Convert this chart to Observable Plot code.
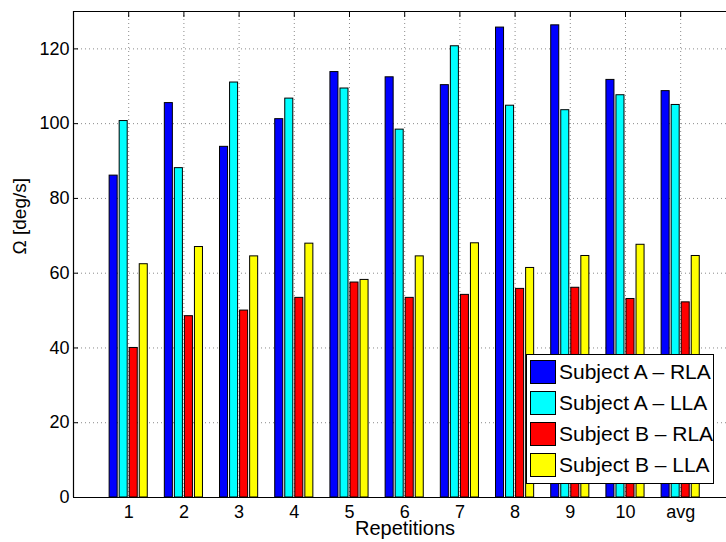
<!DOCTYPE html>
<html><head><meta charset="utf-8">
<script src="https://cdn.jsdelivr.net/npm/d3@7"></script>
<script src="https://cdn.jsdelivr.net/npm/@observablehq/plot@0.6"></script>
<style>
body{margin:0;background:#fff;}
#wrap{position:relative;width:726px;height:542px;overflow:hidden;}
.legend{position:absolute;left:526px;top:354px;width:188px;height:130px;border:1px solid #000;background:#fff;box-sizing:border-box;font-family:"Liberation Sans",Arial,sans-serif;font-size:21px;color:#000;}
.row{position:absolute;left:3px;height:24px;display:flex;align-items:center;white-space:nowrap;}
.sw{width:24px;height:22px;border:1px solid #000;margin-right:3px;}
</style>
</head><body>
<div id="wrap"></div>
<script>
const categories = ["1","2","3","4","5","6","7","8","9","10","avg"];
const seriesNames = ["Subject A – RLA","Subject A – LLA","Subject B – RLA","Subject B – LLA"];
const subjectA_RLA = [86.1,105.5,93.8,101.2,113.8,112.4,110.3,125.7,126.3,111.7,108.7];
const subjectA_LLA = [100.7,88.1,111.0,106.7,109.4,98.4,120.7,104.8,103.6,107.6,105.0];
const subjectB_RLA = [40.0,48.5,50.0,53.4,57.5,53.4,54.2,55.8,56.1,53.1,52.2];
const subjectB_LLA = [62.4,67.0,64.5,67.9,58.2,64.5,68.0,61.4,64.6,67.6,64.6];
const yTicks = [0,20,40,60,80,100,120];
const colors = ["#0000ff","#00ffff","#ff0000","#ffff00"];

const seriesValues = [subjectA_RLA, subjectA_LLA, subjectB_RLA, subjectB_LLA];
const groupStep = 4/(4+1.5)/4;   // spacing between bars in a group
const barWidth = groupStep*0.8;
const rows = [];
categories.forEach((c,i)=>seriesValues.forEach((vals,j)=>{
  const center = (i+1) + (j-1.5)*groupStep;
  rows.push({cat:c, series:seriesNames[j], value:vals[i], x1:center-barWidth/2, x2:center+barWidth/2});
}));
const xTicks = categories.map((c,i)=>i+1);
const font = '"Liberation Sans", Arial, sans-serif';

const chart = Plot.plot({
  width:726, height:542,
  marginLeft:73, marginRight:0, marginTop:11, marginBottom:45,
  style:{fontFamily:font, fontSize:"18px", background:"#fff", color:"#000"},
  x:{domain:[0,11.83], axis:null},
  y:{domain:[0,130], axis:null},
  color:{domain:seriesNames, range:colors},
  marks:[
    Plot.gridY(yTicks.slice(1), {stroke:"#8a8a8a", strokeOpacity:1, strokeDasharray:"1,3"}),
    Plot.gridX(xTicks, {stroke:"#8a8a8a", strokeOpacity:1, strokeDasharray:"1,3"}),
    Plot.rectY(rows, {x1:"x1", x2:"x2", y1:0, y2:"value", fill:"series", stroke:"#000", strokeWidth:1}),
    Plot.ruleY([0,130], {stroke:"#000", strokeWidth:1.2}),
    Plot.ruleX([0], {stroke:"#000", strokeWidth:1.2}),
    Plot.axisY(yTicks, {anchor:"left", tickSize:0, tickPadding:4, label:null, fontSize:18}),
    Plot.axisY(yTicks, {anchor:"left", tickSize:5, dx:5, tickFormat:()=>"", label:null}),
    Plot.axisX(xTicks, {anchor:"bottom", tickSize:0, tickPadding:8, label:null, fontSize:18, tickFormat:d=>categories[d-1]}),
    Plot.axisX(xTicks, {anchor:"top", tickSize:5, dy:5, tickFormat:()=>"", label:null}),
    Plot.text(["Repetitions"], {frameAnchor:"bottom", dx:5, dy:37, fontSize:20, text:d=>d}),
    Plot.text(["Ω [deg/s]"], {frameAnchor:"left", rotate:-90, dx:-54, fontSize:19, text:d=>d})
  ]
});
const wrap = document.getElementById("wrap");
wrap.appendChild(chart);

const legend = document.createElement("div");
legend.className = "legend";
seriesNames.forEach((name,j)=>{
  const row = document.createElement("div");
  row.className = "row";
  row.style.top = (5 + j*31) + "px";
  const sw = document.createElement("div");
  sw.className = "sw";
  sw.style.background = colors[j];
  const t = document.createElement("span");
  t.textContent = name;
  row.appendChild(sw); row.appendChild(t);
  legend.appendChild(row);
});
wrap.appendChild(legend);
</script>
</body></html>
